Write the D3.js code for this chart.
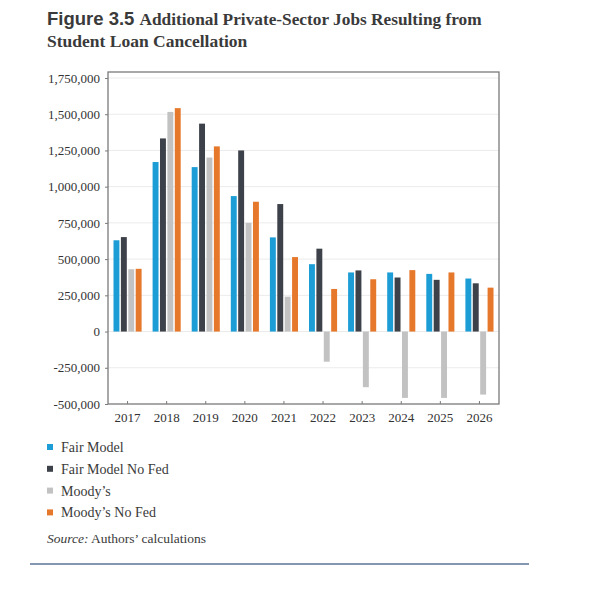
<!DOCTYPE html>
<html>
<head>
<meta charset="utf-8">
<script src="https://cdn.jsdelivr.net/npm/d3@7"></script>
<style>
  body { margin: 0; background: #fff; }
  text { font-family: "Liberation Serif", "DejaVu Serif", serif; fill: #3a3a3a; }
</style>
</head>
<body>
<div id="chart"></div>
<script>
const w = 600;
const h = 592;

const years = ['2017', '2018', '2019', '2020', '2021', '2022', '2023', '2024', '2025', '2026'];
const seriesNames = ['Fair Model', 'Fair Model No Fed', "Moody\u2019s", "Moody\u2019s No Fed"];
const colors = ['#1c9dd5', '#3d4149', '#c2c2c2', '#e6782b'];

const fairModel   = [630000, 1170000, 1135000, 935000, 650000, 465000, 408000, 408000, 398000, 366000];
const fairNoFed   = [652000, 1333000, 1435000, 1250000, 880000, 572000, 422000, 373000, 357000, 333000];
const moodys      = [430000, 1516000, 1201000, 750000, 241000, -208000, -384000, -458000, -458000, -435000];
const moodysNoFed = [433000, 1542000, 1278000, 896000, 514000, 294000, 361000, 424000, 408000, 303000];

const yTicks = [-500000, -250000, 0, 250000, 500000, 750000, 1000000, 1250000, 1500000, 1750000];

const series = [fairModel, fairNoFed, moodys, moodysNoFed];

const pLeft = 108, pRight = 499, pTop = 72, pBottom = 404;

const svg = d3.select('#chart')
  .append('svg')
  .attr('width', w)
  .attr('height', h);

// title: sans "Figure 3.5" then serif text
const t1 = svg.append('text')
  .attr('x', 47)
  .attr('y', 25)
  .style('font-weight', 'bold');
t1.append('tspan')
  .style('font-family', '"Liberation Sans", Arial, sans-serif')
  .style('font-size', '18.5px')
  .text('Figure 3.5 ');
t1.append('tspan')
  .style('font-size', '17.3px')
  .text('Additional Private-Sector Jobs Resulting from');

svg.append('text')
  .attr('x', 47)
  .attr('y', 47)
  .style('font-weight', 'bold')
  .style('font-size', '17.5px')
  .text('Student Loan Cancellation');

const x = d3.scaleBand()
  .domain(years)
  .range([pLeft, pRight])
  .padding(0);

const xs = d3.scaleBand()
  .domain(d3.range(series.length))
  .range([5.5, x.bandwidth() - 5.5])
  .paddingInner(0.2);

const y = d3.scaleLinear()
  .domain([-500000, 1750000])
  .range([pBottom, 78]);

const fmt = d => d3.format(',')(d).replace('\u2212', '-');

// gridlines
svg.append('g')
  .selectAll('line')
  .data(yTicks.filter(d => d !== -500000))
  .enter()
  .append('line')
  .attr('x1', pLeft)
  .attr('x2', pRight)
  .attr('y1', d => y(d))
  .attr('y2', d => y(d))
  .style('stroke', '#ebebeb')
  .style('stroke-width', 1);

// bars
const rows = years.map((yr, i) => series.map((s, j) => ({ year: yr, k: j, v: s[i] })));

svg.append('g')
  .selectAll('g')
  .data(rows)
  .enter()
  .append('g')
  .attr('transform', d => `translate(${x(d[0].year)},0)`)
  .selectAll('rect')
  .data(d => d)
  .enter()
  .append('rect')
  .attr('x', d => xs(d.k))
  .attr('width', xs.bandwidth())
  .attr('y', d => y(Math.max(0, d.v)))
  .attr('height', d => Math.abs(y(d.v) - y(0)))
  .style('fill', d => colors[d.k]);

// frame
svg.append('rect')
  .attr('x', pLeft)
  .attr('y', pTop)
  .attr('width', pRight - pLeft)
  .attr('height', pBottom - pTop)
  .style('fill', 'none')
  .style('stroke', '#7a7a7a')
  .style('stroke-width', 1.3);

// y axis
const yAxis = svg.append('g')
  .attr('transform', `translate(${pLeft},0)`)
  .call(d3.axisLeft(y).tickValues(yTicks).tickSize(3).tickPadding(5).tickFormat(fmt));
yAxis.select('.domain').remove();
yAxis.selectAll('line').style('stroke', '#7a7a7a');
yAxis.selectAll('text')
  .style('font-family', '"Liberation Serif", serif')
  .style('font-size', '13px')
  .style('fill', '#333');

// x axis
const xAxis = svg.append('g')
  .attr('transform', `translate(0,${pBottom})`)
  .call(d3.axisBottom(x).tickSize(-3).tickPadding(9));
xAxis.select('.domain').remove();
xAxis.selectAll('line').style('stroke', '#7a7a7a');
xAxis.selectAll('text')
  .style('font-family', '"Liberation Serif", serif')
  .style('font-size', '13px')
  .style('fill', '#333');

// legend
const lg = svg.append('g')
  .selectAll('g')
  .data(seriesNames)
  .enter()
  .append('g')
  .attr('transform', (d, i) => `translate(47,${447 + i * 21.8})`);

lg.append('rect')
  .attr('x', 0)
  .attr('y', -3)
  .attr('width', 6)
  .attr('height', 6)
  .style('fill', (d, i) => colors[i]);

lg.append('text')
  .attr('x', 14)
  .attr('y', 5)
  .style('font-size', '14px')
  .text(d => d);

// source
const src = svg.append('text')
  .attr('x', 47)
  .attr('y', 543)
  .style('font-size', '13.5px');
src.append('tspan').style('font-style', 'italic').text('Source:');
src.append('tspan').text(' Authors\u2019 calculations');

svg.append('line')
  .attr('x1', 30)
  .attr('x2', 529)
  .attr('y1', 564)
  .attr('y2', 564)
  .style('stroke', '#5b7398')
  .style('stroke-width', 1.5);
</script>
</body>
</html>
